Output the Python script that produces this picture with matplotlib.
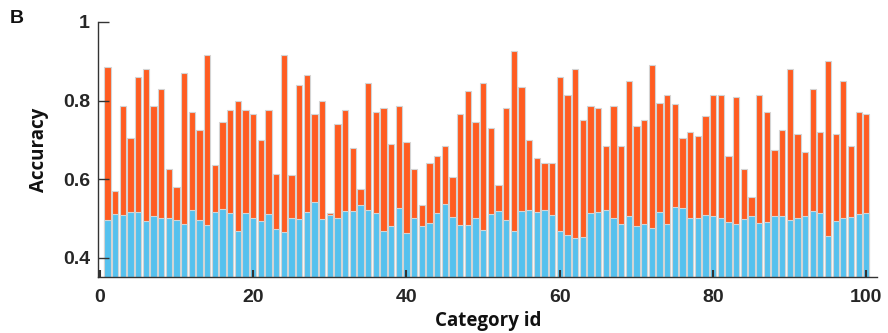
import matplotlib
matplotlib.use("Agg")
import matplotlib.pyplot as plt
import numpy as np

category_ids = list(range(1, 101))

# Top of the orange bar (overall accuracy)
orange_values = [
    0.885, 0.570, 0.786, 0.705, 0.860, 0.880, 0.786, 0.830, 0.625, 0.580,
    0.870, 0.770, 0.725, 0.915, 0.636, 0.745, 0.775, 0.800, 0.775, 0.765,
    0.700, 0.775, 0.614, 0.915, 0.610, 0.840, 0.864, 0.765, 0.800, 0.515,
    0.741, 0.775, 0.680, 0.575, 0.845, 0.770, 0.780, 0.690, 0.786, 0.695,
    0.625, 0.535, 0.640, 0.659, 0.685, 0.605, 0.765, 0.825, 0.745, 0.845,
    0.730, 0.585, 0.780, 0.925, 0.835, 0.700, 0.655, 0.640, 0.640, 0.860,
    0.815, 0.880, 0.750, 0.786, 0.780, 0.685, 0.786, 0.685, 0.850, 0.736,
    0.750, 0.890, 0.795, 0.814, 0.790, 0.705, 0.719, 0.710, 0.760, 0.814,
    0.814, 0.659, 0.810, 0.625, 0.554, 0.814, 0.770, 0.675, 0.725, 0.880,
    0.715, 0.670, 0.830, 0.719, 0.900, 0.715, 0.850, 0.685, 0.770, 0.765,
]

# Top of the blue bar (baseline accuracy)
blue_values = [
    0.496, 0.512, 0.508, 0.517, 0.517, 0.494, 0.506, 0.500, 0.502, 0.495,
    0.486, 0.522, 0.496, 0.483, 0.516, 0.524, 0.514, 0.469, 0.513, 0.502,
    0.493, 0.511, 0.472, 0.465, 0.501, 0.499, 0.517, 0.542, 0.498, 0.508,
    0.501, 0.520, 0.519, 0.533, 0.521, 0.514, 0.467, 0.481, 0.526, 0.464,
    0.501, 0.480, 0.489, 0.513, 0.536, 0.503, 0.483, 0.484, 0.502, 0.471,
    0.512, 0.520, 0.497, 0.469, 0.519, 0.521, 0.517, 0.521, 0.509, 0.469,
    0.458, 0.451, 0.454, 0.514, 0.516, 0.521, 0.502, 0.486, 0.506, 0.481,
    0.486, 0.475, 0.516, 0.486, 0.529, 0.527, 0.502, 0.501, 0.509, 0.507,
    0.502, 0.492, 0.485, 0.499, 0.506, 0.488, 0.490, 0.506, 0.507, 0.497,
    0.500, 0.506, 0.519, 0.514, 0.455, 0.494, 0.502, 0.503, 0.511, 0.513,
]

y_ticks = [0.4, 0.6, 0.8, 1.0]
y_tick_labels = ["0.4", "0.6", "0.8", "1"]
x_ticks = [0, 20, 40, 60, 80, 100]

plt.rcParams['font.family'] = ['Liberation Sans', 'DejaVu Sans']

fig = plt.figure(figsize=(8.88, 3.33), dpi=100)
ax = fig.add_axes([0.1107, 0.167, 0.877, 0.767])

orange = "#FF5C21"
blue = "#55C1EE"
edge = "#D4D4D4"
bottom = 0.35

ax.bar(category_ids, np.array(orange_values) - bottom, bottom=bottom, width=0.82,
       color=orange, edgecolor=edge, linewidth=0.8)
ax.bar(category_ids, np.array(blue_values) - bottom, bottom=bottom, width=0.82,
       color=blue, edgecolor=edge, linewidth=0.8)

ax.set_xlim(-0.2, 101.4)
ax.set_ylim(bottom, 1.0)
ax.set_yticks(y_ticks)
ax.set_yticklabels(y_tick_labels)
ax.set_xticks(x_ticks)

for s in ["top", "right"]:
    ax.spines[s].set_visible(False)
for s in ["left", "bottom"]:
    ax.spines[s].set_color("#333333")
    ax.spines[s].set_linewidth(1.0)

ax.tick_params(axis="y", direction="in", length=8, width=1, color="#333333",
               labelsize=14, pad=6)
ax.tick_params(axis="x", direction="in", length=5, width=1.5, color="#333333",
               labelsize=14, pad=8)
for lab in ax.get_xticklabels() + ax.get_yticklabels():
    lab.set_fontweight("bold")
    lab.set_color("#262626")

ax.set_xlabel("Category id", fontsize=13.5, fontweight="bold", labelpad=4,
              family=["Open Sans", "DejaVu Sans"], color="#111111")
ax.set_ylabel("Accuracy", fontsize=13.5, fontweight="bold", labelpad=10,
              family=["Open Sans", "DejaVu Sans"], color="#111111")

fig.text(0.011, 0.945, "B", fontsize=14, fontweight="bold", va="center", ha="left",
         color="#111111")

fig.savefig("out.png", dpi=100)
